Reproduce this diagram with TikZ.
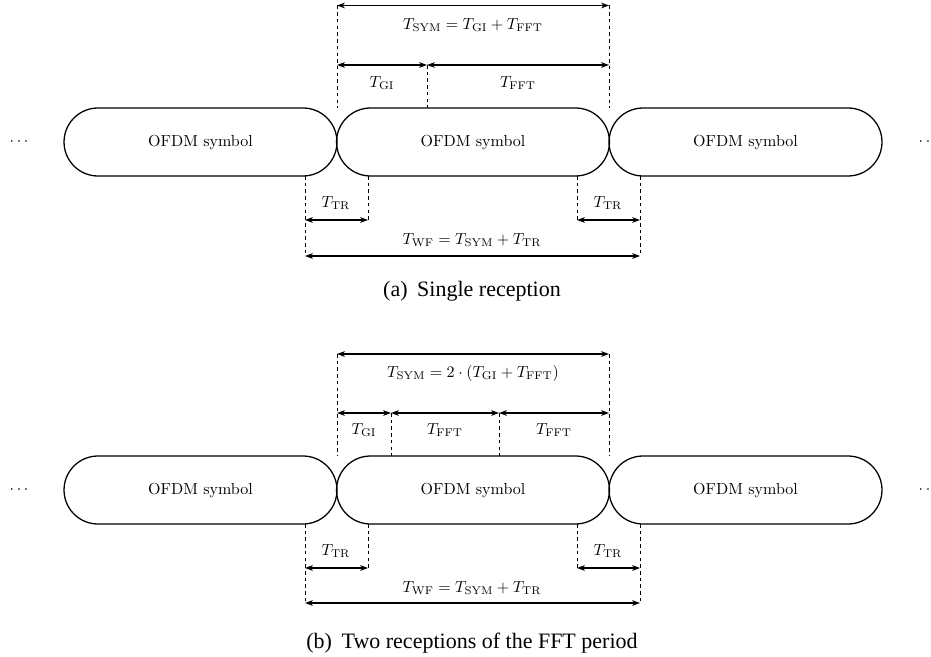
\documentclass[tikz,border=0pt]{standalone}
\usepackage{fontspec}
\newfontfamily\capfontfam{Liberation Serif}
\usetikzlibrary{shapes.misc,arrows.meta}
\begin{document}
\begin{tikzpicture}[x=0.625pt,y=-0.625pt,
  sym/.style={rounded rectangle, draw, line width=0.8pt, minimum width=170.6pt, minimum height=42.5pt, inner sep=0pt, font=\normalsize},
  dim/.style={{Stealth[length=5pt,width=3.6pt]}-{Stealth[length=5pt,width=3.6pt]}, line width=0.9pt},
  guide/.style={dash pattern=on 2.2pt off 2pt, line width=0.5pt},
  lbl/.style={font=\normalsize, inner sep=0pt},
  captext/.style={font={\capfontfam\fontsize{13.75}{16}\selectfont}, anchor=base, inner sep=0pt}]
\useasboundingbox (0,0) rectangle (931,657);

% ---------------- row (a) ----------------
\node[sym] (a1) at (200.5,142) {OFDM symbol};
\node[sym] (a2) at (473,142) {OFDM symbol};
\node[sym] (a3) at (745.5,142) {OFDM symbol};
\node[lbl] (adl) at (19,142) {$\cdots$};
\node[lbl] (adr) at (928,142) {$\cdots$};

\coordinate (aS1) at (337,5.5); \coordinate (aS2) at (609,5.5);
\coordinate (aS1b) at (337,108); \coordinate (aS2b) at (609,108);
\coordinate (aG1) at (337,65); \coordinate (aG) at (427,65); \coordinate (aG2) at (609,65);
\coordinate (aGb) at (427,108);
\draw[guide] (aS1) -- (aS1b);
\draw[guide] (aS2) -- (aS2b);
\draw[guide] (aG) -- (aGb);
\draw[dim] (aS1) -- (aS2);
\draw[dim] (aG1) -- (aG);
\draw[dim] (aG) -- (aG2);
\node[lbl] (aSl) at (473,25) {$T_{\mathrm{SYM}} = T_{\mathrm{GI}} + T_{\mathrm{FFT}}$};
\node[lbl] (aGl) at (382,83) {$T_{\mathrm{GI}}$};
\node[lbl] (aFl) at (518,83) {$T_{\mathrm{FFT}}$};

\coordinate (aT1) at (305,176); \coordinate (aT1m) at (305,220); \coordinate (aT1e) at (305,256);
\coordinate (aT2) at (368,176); \coordinate (aT2e) at (368,220);
\coordinate (aT3) at (577,176); \coordinate (aT3e) at (577,220);
\coordinate (aT4) at (640,176); \coordinate (aT4m) at (640,220); \coordinate (aT4e) at (640,256);
\draw[guide] (aT1) -- (aT1e);
\draw[guide] (aT2) -- (aT2e);
\draw[guide] (aT3) -- (aT3e);
\draw[guide] (aT4) -- (aT4e);
\draw[dim] (aT1m) -- (aT2e);
\draw[dim] (aT3e) -- (aT4m);
\draw[dim] (aT1e) -- (aT4e);
\node[lbl] (aR1) at (336,203) {$T_{\mathrm{TR}}$};
\node[lbl] (aR2) at (608,203) {$T_{\mathrm{TR}}$};
\node[lbl] (aW) at (472,240) {$T_{\mathrm{WF}} = T_{\mathrm{SYM}} + T_{\mathrm{TR}}$};
\node[captext] (acap) at (472,296) {(a)\hspace{6pt}Single reception};

% ---------------- row (b) ----------------
\node[sym] (b1) at (200.5,490) {OFDM symbol};
\node[sym] (b2) at (473,490) {OFDM symbol};
\node[sym] (b3) at (745.5,490) {OFDM symbol};
\node[lbl] (bdl) at (19,490) {$\cdots$};
\node[lbl] (bdr) at (928,490) {$\cdots$};

\coordinate (bS1) at (337,354); \coordinate (bS2) at (609,354);
\coordinate (bS1b) at (337,456); \coordinate (bS2b) at (609,456);
\coordinate (bG1) at (337,413); \coordinate (bG) at (391,413); \coordinate (bF) at (499,413); \coordinate (bG2) at (609,413);
\coordinate (bGb) at (391,456); \coordinate (bFb) at (499,456);
\draw[guide] (bS1) -- (bS1b);
\draw[guide] (bS2) -- (bS2b);
\draw[guide] (bG) -- (bGb);
\draw[guide] (bF) -- (bFb);
\draw[dim] (bS1) -- (bS2);
\draw[dim] (bG1) -- (bG);
\draw[dim] (bG) -- (bF);
\draw[dim] (bF) -- (bG2);
\node[lbl] (bSl) at (473,373) {$T_{\mathrm{SYM}} = 2\cdot (T_{\mathrm{GI}} + T_{\mathrm{FFT}})$};
\node[lbl] (bGl) at (364,430) {$T_{\mathrm{GI}}$};
\node[lbl] (bFl1) at (445,430) {$T_{\mathrm{FFT}}$};
\node[lbl] (bFl2) at (554,430) {$T_{\mathrm{FFT}}$};

\coordinate (bT1) at (305,524); \coordinate (bT1m) at (305,568); \coordinate (bT1e) at (305,603);
\coordinate (bT2) at (368,524); \coordinate (bT2e) at (368,568);
\coordinate (bT3) at (577,524); \coordinate (bT3e) at (577,568);
\coordinate (bT4) at (640,524); \coordinate (bT4m) at (640,568); \coordinate (bT4e) at (640,603);
\draw[guide] (bT1) -- (bT1e);
\draw[guide] (bT2) -- (bT2e);
\draw[guide] (bT3) -- (bT3e);
\draw[guide] (bT4) -- (bT4e);
\draw[dim] (bT1m) -- (bT2e);
\draw[dim] (bT3e) -- (bT4m);
\draw[dim] (bT1e) -- (bT4e);
\node[lbl] (bR1) at (336,551) {$T_{\mathrm{TR}}$};
\node[lbl] (bR2) at (608,551) {$T_{\mathrm{TR}}$};
\node[lbl] (bW) at (472,588) {$T_{\mathrm{WF}} = T_{\mathrm{SYM}} + T_{\mathrm{TR}}$};
\node[captext] (bcap) at (472,648) {(b)\hspace{6pt}Two receptions of the FFT period};
\end{tikzpicture}
\end{document}
